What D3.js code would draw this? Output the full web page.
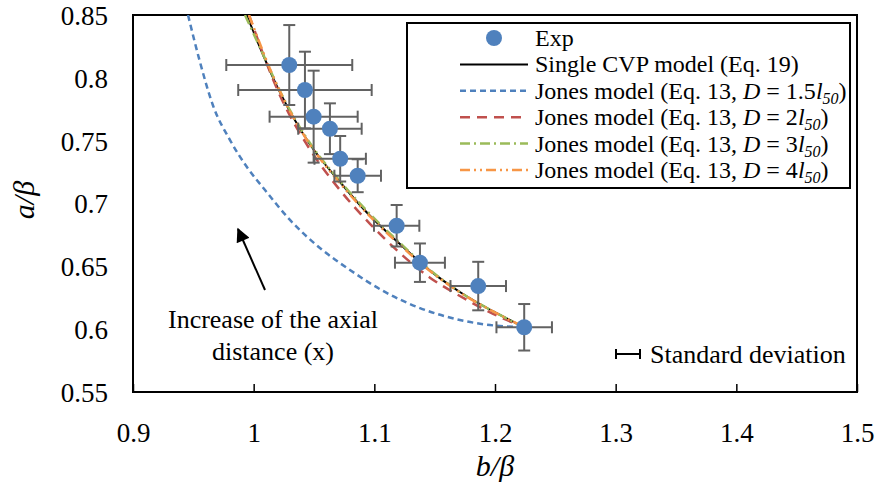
<!DOCTYPE html>
<html>
<head>
<meta charset="utf-8">
<script src="https://cdn.jsdelivr.net/npm/d3@7/dist/d3.min.js"></script>
<style>
  html, body { margin: 0; padding: 0; background: #fff; }
  svg { display: block; font-family: "Liberation Serif", "Times New Roman", serif; }
  text { font-family: "Liberation Serif", "Times New Roman", serif; }
</style>
</head>
<body>
<svg id="chart" width="879" height="488"></svg>
<script>
// ---- Data ----
const xTicks = [0.9, 1, 1.1, 1.2, 1.3, 1.4, 1.5];
const yTicks = [0.55, 0.6, 0.65, 0.7, 0.75, 0.8, 0.85];

// Experimental points (b/beta, a/beta) with standard deviations
const expX    = [1.0295, 1.0425, 1.0497, 1.0632, 1.0717, 1.0862, 1.1185, 1.1378, 1.1861, 1.2242];
const expY    = [0.8102, 0.7903, 0.7691, 0.7595, 0.7356, 0.7221, 0.6823, 0.6529, 0.6343, 0.6015];
const expXErr = [0.0522, 0.0553, 0.0365, 0.0263, 0.0213, 0.0193, 0.0188, 0.0207, 0.0230, 0.0230];
const expYErr = [0.0318, 0.0305, 0.0366, 0.0202, 0.0181, 0.0131, 0.0165, 0.0153, 0.0193, 0.0185];

// Single CVP model (Eq. 19)
const cvpX = [0.9942, 1.0218, 1.0466, 1.0715, 1.0964, 1.1212, 1.1461, 1.1709, 1.2041, 1.2239];
const cvpY = [0.8500, 0.7884, 0.7471, 0.7171, 0.6902, 0.6678, 0.6466, 0.6296, 0.6113, 0.6017];

// Jones model D = 1.5 l50
const j15X = [0.9456, 0.9555, 0.9663, 0.9804, 0.9944, 1.0094, 1.0301, 1.0549, 1.0798, 1.1088, 1.1378, 1.1709, 1.2041, 1.2239];
const j15Y = [0.8500, 0.8126, 0.7780, 0.7505, 0.7290, 0.7107, 0.6869, 0.6646, 0.6471, 0.6296, 0.6168, 0.6073, 0.6025, 0.6017];

// Jones model D = 2 l50
const j2X = [0.9961, 1.0218, 1.0466, 1.0715, 1.0964, 1.1212, 1.1461, 1.1709, 1.2041, 1.2239];
const j2Y = [0.8500, 0.7860, 0.7431, 0.7107, 0.6838, 0.6606, 0.6410, 0.6264, 0.6097, 0.6017];

// Jones model D = 3 l50
const j3X = [0.9928, 1.0069, 1.0218, 1.0466, 1.0715, 1.0964, 1.1212, 1.1461, 1.1709, 1.2041, 1.2239];
const j3Y = [0.8500, 0.8206, 0.7895, 0.7481, 0.7179, 0.6916, 0.6686, 0.6471, 0.6296, 0.6113, 0.6017];

// Jones model D = 4 l50
const j4X = [0.9961, 1.0218, 1.0466, 1.0715, 1.0964, 1.1212, 1.1461, 1.1709, 1.2041, 1.2239];
const j4Y = [0.8500, 0.7891, 0.7469, 0.7163, 0.6897, 0.6670, 0.6463, 0.6292, 0.6113, 0.6017];

// ---- Layout ----
const svg = d3.select("#chart");
const L = 133, R = 857, T = 15, B = 392;
const x = d3.scaleLinear().domain([0.9, 1.5]).range([L, R]);
const y = d3.scaleLinear().domain([0.55, 0.85]).range([B, T]);

const C_BLUE = "#4F81BD", C_RED = "#C0504D", C_GREEN = "#9BBB59", C_ORANGE = "#F79646";
const FONT = "Liberation Serif";

const defs = svg.append("defs");
defs.append("clipPath").attr("id", "clip")
  .append("rect").attr("x", L).attr("y", T).attr("width", R - L).attr("height", B - T);

// x axis ticks (inward)
const xAxis = d3.axisBottom(x).tickValues(xTicks).tickSize(-8).tickFormat(d3.format("~g"));
const gx = svg.append("g").attr("transform", `translate(0,${B})`).call(xAxis)
  .attr("font-family", FONT);
gx.select(".domain").remove();
gx.selectAll(".tick line").attr("stroke", "#000").attr("stroke-width", 1.5);
gx.selectAll(".tick text").attr("font-size", 27).attr("font-family", FONT)
  .attr("fill", "#000").attr("y", 0).attr("dy", "1.85em");

const yAxis = d3.axisLeft(y).tickValues(yTicks).tickSize(0).tickFormat(d3.format("~g"));
const gy = svg.append("g").attr("transform", `translate(${L},0)`).call(yAxis)
  .attr("font-family", FONT);
gy.select(".domain").remove();
gy.selectAll(".tick text").attr("font-size", 27).attr("font-family", FONT)
  .attr("fill", "#000").attr("x", -25).attr("dy", "0.35em");

// plot frame
svg.append("rect").attr("x", L).attr("y", T).attr("width", R - L).attr("height", B - T)
  .attr("fill", "none").attr("stroke", "#000").attr("stroke-width", 2);

// axis titles
svg.append("text").attr("x", 495).attr("y", 476).attr("text-anchor", "middle").attr("font-family", FONT)
  .attr("font-size", 30).attr("font-style", "italic").text("b/β");
svg.append("text").attr("transform", "translate(34,200) rotate(-90)").attr("text-anchor", "middle")
  .attr("font-family", FONT).attr("font-size", 30).attr("font-style", "italic").text("a/β");

// ---- Curves ----
const line = d3.line().x(d => x(d[0])).y(d => y(d[1])).curve(d3.curveMonotoneX);
const plot = svg.append("g").attr("clip-path", "url(#clip)");
const series = [
  { xs: cvpX, ys: cvpY, color: "#000", dash: null, w: 2 },
  { xs: j15X, ys: j15Y, color: C_BLUE, dash: "6,4", w: 2.5 },
  { xs: j2X, ys: j2Y, color: C_RED, dash: "10,7", w: 2.5 },
  { xs: j3X, ys: j3Y, color: C_GREEN, dash: "10,4,2,4", w: 2.5 },
  { xs: j4X, ys: j4Y, color: C_ORANGE, dash: "10,4,2,4,2,4", w: 2.5 }
];
series.forEach(s => {
  plot.append("path").datum(s.xs.map((v, i) => [v, s.ys[i]]))
    .attr("d", line).attr("fill", "none").attr("stroke", s.color)
    .attr("stroke-width", s.w).attr("stroke-dasharray", s.dash);
});

// ---- Error bars & points ----
const exp = expX.map((v, i) => ({ x: v, y: expY[i], ex: expXErr[i], ey: expYErr[i] }));
const eb = svg.append("g").attr("stroke", "#626262").attr("stroke-width", 2);
const cap = 6;
exp.forEach(d => {
  eb.append("line").attr("x1", x(d.x - d.ex)).attr("x2", x(d.x + d.ex)).attr("y1", y(d.y)).attr("y2", y(d.y));
  eb.append("line").attr("x1", x(d.x)).attr("x2", x(d.x)).attr("y1", y(d.y - d.ey)).attr("y2", y(d.y + d.ey));
  [d.x - d.ex, d.x + d.ex].forEach(v => eb.append("line").attr("x1", x(v)).attr("x2", x(v)).attr("y1", y(d.y) - cap).attr("y2", y(d.y) + cap));
  [d.y - d.ey, d.y + d.ey].forEach(v => eb.append("line").attr("x1", x(d.x) - cap).attr("x2", x(d.x) + cap).attr("y1", y(v)).attr("y2", y(v)));
});
svg.append("g").selectAll("circle").data(exp).join("circle")
  .attr("cx", d => x(d.x)).attr("cy", d => y(d.y)).attr("r", 8).attr("fill", C_BLUE);

// ---- Legend ----
const lg = svg.append("g").attr("font-family", FONT);
lg.append("rect").attr("x", 407).attr("y", 23).attr("width", 443).attr("height", 165)
  .attr("fill", "#fff").attr("stroke", "#000").attr("stroke-width", 2);
const legendItems = [
  { type: "dot", label: ["Exp"] },
  { type: "line", s: series[0], label: ["Single CVP model (Eq. 19)"] },
  { type: "line", s: series[1], label: ["Jones model (Eq. 13, ", "D", " = 1.5", "l", "50", ")"] },
  { type: "line", s: series[2], label: ["Jones model (Eq. 13, ", "D", " = 2", "l", "50", ")"] },
  { type: "line", s: series[3], label: ["Jones model (Eq. 13, ", "D", " = 3", "l", "50", ")"] },
  { type: "line", s: series[4], label: ["Jones model (Eq. 13, ", "D", " = 4", "l", "50", ")"] }
];
legendItems.forEach((it, i) => {
  const cy = 38 + i * 26.4;
  if (it.type === "dot") {
    lg.append("circle").attr("cx", 494).attr("cy", cy).attr("r", 8).attr("fill", C_BLUE);
  } else {
    lg.append("line").attr("x1", 460).attr("x2", 528).attr("y1", cy).attr("y2", cy)
      .attr("stroke", it.s.color).attr("stroke-width", it.s.w).attr("stroke-dasharray", it.s.dash);
  }
  const t = lg.append("text").attr("x", 535).attr("y", cy + 8).attr("font-size", 24);
  if (it.label.length === 1) { t.text(it.label[0]); }
  else {
    t.append("tspan").text(it.label[0]);
    t.append("tspan").attr("font-style", "italic").text(it.label[1]);
    t.append("tspan").text(it.label[2]);
    t.append("tspan").attr("font-style", "italic").text(it.label[3]);
    t.append("tspan").attr("font-style", "italic").attr("font-size", 16).attr("dy", 5).text(it.label[4]);
    t.append("tspan").attr("dy", -5).text(it.label[5]);
  }
});

// ---- Annotations ----
defs.append("marker").attr("id", "arrow").attr("viewBox", "0 0 10 10")
  .attr("refX", 9).attr("refY", 5).attr("markerWidth", 8).attr("markerHeight", 7)
  .attr("markerUnits", "strokeWidth")
  .attr("orient", "auto").append("path").attr("d", "M0,0 L10,5 L0,10 z").attr("fill", "#000");
svg.append("line").attr("x1", 265).attr("y1", 290).attr("x2", 238).attr("y2", 229)
  .attr("stroke", "#000").attr("stroke-width", 2).attr("marker-end", "url(#arrow)");
svg.append("text").attr("x", 273).attr("y", 328).attr("text-anchor", "middle").attr("font-size", 26)
  .attr("font-family", FONT).text("Increase of the axial");
svg.append("text").attr("x", 273).attr("y", 360).attr("text-anchor", "middle").attr("font-size", 26)
  .attr("font-family", FONT).text("distance (x)");

// Standard deviation key
const sd = svg.append("g").attr("stroke", "#000").attr("stroke-width", 2);
sd.append("line").attr("x1", 616).attr("x2", 640).attr("y1", 354).attr("y2", 354);
sd.append("line").attr("x1", 616).attr("x2", 616).attr("y1", 349).attr("y2", 359);
sd.append("line").attr("x1", 640).attr("x2", 640).attr("y1", 349).attr("y2", 359);
svg.append("text").attr("x", 650).attr("y", 363).attr("font-size", 26).attr("font-family", FONT)
  .text("Standard deviation");
</script>
</body>
</html>
